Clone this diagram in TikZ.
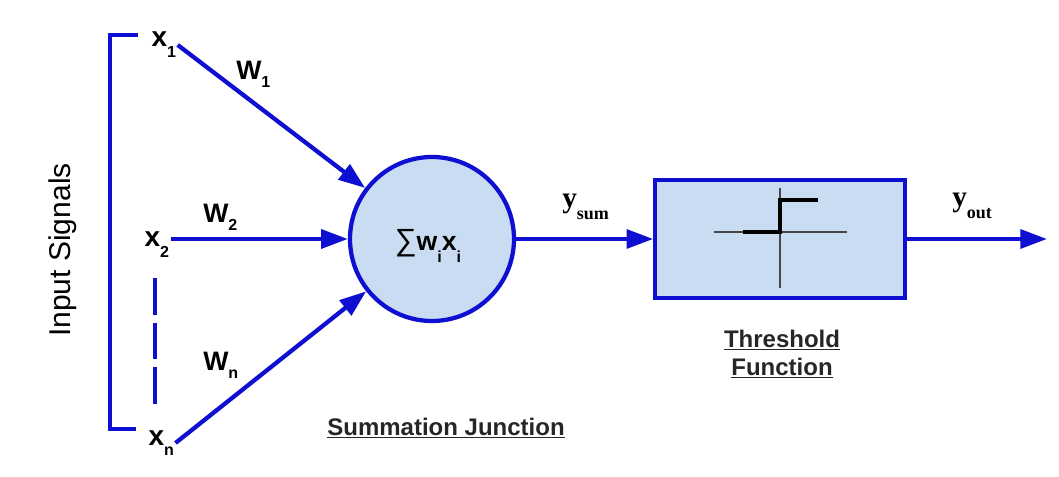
\documentclass[tikz,border=0pt]{standalone}
\usepackage{fontspec}
\setmainfont{Liberation Sans}
\newfontfamily\tmsfont{Liberation Serif}
\usetikzlibrary{arrows.meta,positioning}

\definecolor{sigblue}{RGB}{15,15,210}
\definecolor{cellfill}{RGB}{202,220,241}
\definecolor{axisgray}{RGB}{70,70,70}

% letter with a lowered small index
\newcommand{\lowsub}[3][-8pt]{#2\raisebox{#1}{\fontsize{12}{12}\selectfont #3}}

\begin{document}
\begin{tikzpicture}[
        x=0.75pt, y=-0.75pt,
        bluel/.style={draw=sigblue, line width=3.2pt},
        bluearr/.style={bluel, -{Triangle[length=20pt,width=14pt]}},
        lbl/.style={inner xsep=1pt, inner ysep=0pt, font=\fontsize{21}{21}\selectfont\bfseries},
        wlbl/.style={inner sep=0pt, font=\fontsize{20}{20}\selectfont\bfseries},
        ylbl/.style={inner sep=0pt, font=\fontsize{22}{22}\selectfont\tmsfont\bfseries},
        capt/.style={inner sep=0pt, font=\fontsize{18}{21}\selectfont\bfseries, text=black!85, align=center},
        sumn/.style={circle, bluel, fill=cellfill, minimum size=123pt, inner sep=0pt},
        thrn/.style={rectangle, bluel, fill=cellfill, minimum width=187pt, minimum height=89pt, inner sep=0pt},
    ]
    \useasboundingbox (0,0) rectangle (1059,477);

    % inputs
    \node[lbl, anchor=base west](x1) at (150,47){\lowsub{x}{1}};
    \node[lbl, anchor=base west](x2) at (143,247){\lowsub{x}{2}};
    \node[lbl, anchor=base west](xn) at (147,445){\lowsub{x}{n}};
    \node[rotate=90, inner sep=0pt, font=\fontsize{22.5}{22.5}\selectfont](insig) at (63,250){Input Signals};

    \draw[bluel] (138,35) -| (110,429) -- (136,429);
    \draw[bluel, dash pattern=on 27.5pt off 6pt] (155,278) -- (155,405);

    % summation and threshold
    \node[sumn](sum) at (432,239){};
    \node[anchor=base, inner sep=0pt, font=\fontsize{20}{20}\selectfont](sumtxt) at (428,251)
        {{\fontsize{23}{23}\selectfont ∑}\textbf{\lowsub[-9pt]{w}{i}\lowsub[-9pt]{x}{i}}};
    \node[thrn](thr) at (780,239){};
    \coordinate (yend) at (1047,239);

    \draw[bluearr] (x1.east) -- (sum);
    \draw[bluearr] (x2.east |- sum) -- (sum);
    \draw[bluearr] (xn.east) -- (sum);
    \draw[bluearr] (sum) -- (thr);
    \draw[bluearr] (thr) -- (yend);

    % weights and outputs
    \node[wlbl, anchor=base west](w1) at (236,80){\lowsub[-6pt]{W}{1}};
    \node[wlbl, anchor=base west](w2) at (203,223){\lowsub[-6pt]{W}{2}};
    \node[wlbl, anchor=base west](wn) at (203,370){\lowsub[-6pt]{W}{n}};
    \node[ylbl, anchor=base west](ysum) at (562,208)
        {y\raisebox{-8.6pt}{\fontsize{13.5}{13.5}\selectfont sum}};
    \node[ylbl, anchor=base west](yout) at (952,207)
        {y\raisebox{-8.6pt}{\fontsize{13.5}{13.5}\selectfont out}};

    % step inside the box
    \draw[axisgray, line width=0.8pt] (714,232) -- (847,232);
    \draw[axisgray, line width=0.8pt] (780,188) -- (780,288);
    \draw[black, line width=3pt] (743,232) -- (780,232) -- (780,200) -- (818,200);

    % captions
    \node[capt, anchor=base](thrcapt) at (782,375){\underline{Threshold}\\\underline{Function}};
    \node[capt, anchor=base](sumcapt) at (446,435){\underline{Summation Junction}};
\end{tikzpicture}
\end{document}
